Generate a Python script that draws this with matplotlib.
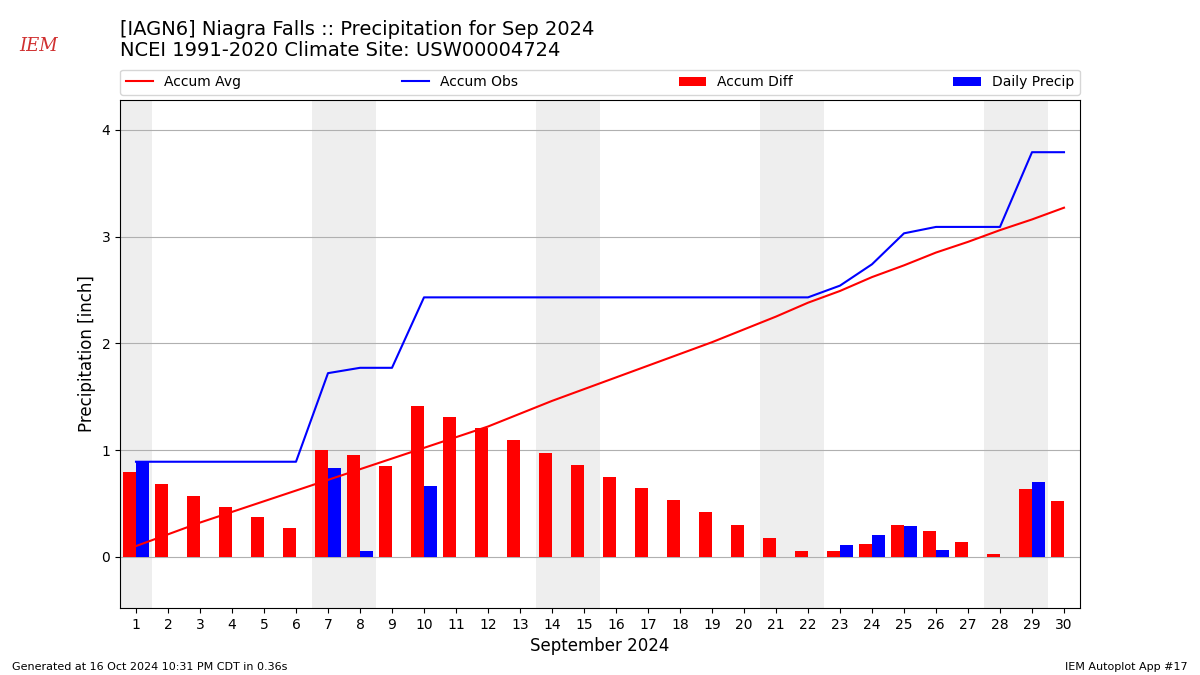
import matplotlib
matplotlib.use("Agg")
import matplotlib.pyplot as plt
import numpy as np

# September 2024 daily values, Niagara Falls (IAGN6)
days = list(range(1, 31))
accum_avg = [0.10, 0.21, 0.32, 0.42, 0.52, 0.62, 0.72, 0.82, 0.92, 1.02,
             1.12, 1.22, 1.34, 1.46, 1.57, 1.68, 1.79, 1.90, 2.01, 2.13,
             2.25, 2.38, 2.49, 2.62, 2.73, 2.85, 2.95, 3.06, 3.16, 3.27]
daily_precip = [0.89, 0, 0, 0, 0, 0, 0.83, 0.05, 0, 0.66,
                0, 0, 0, 0, 0, 0, 0, 0, 0, 0,
                0, 0, 0.11, 0.20, 0.29, 0.06, 0, 0, 0.70, 0]
weekend_days = [1, 7, 8, 14, 15, 21, 22, 28, 29]

accum_obs = np.cumsum(daily_precip)
accum_diff = accum_obs - np.array(accum_avg)

fig = plt.figure(figsize=(12, 6.75), dpi=100)
ax = fig.add_axes([0.1, 0.0993, 0.8, 0.7527])

# weekend shading
for d in weekend_days:
    ax.axvspan(d - 0.5, d + 0.5, color="#eeeeee", zorder=0, lw=0)

ax.plot(days, accum_avg, color="r", label="Accum Avg", zorder=3)
ax.plot(days, accum_obs, color="b", label="Accum Obs", zorder=3)
ax.bar(np.array(days) - 0.2, accum_diff, width=0.4, color="r", label="Accum Diff", zorder=2)
ax.bar(np.array(days) + 0.2, daily_precip, width=0.4, color="b", label="Daily Precip", zorder=2)

ax.set_xlim(0.5, 30.5)
ax.set_ylim(-0.48, 4.28)
ax.set_xticks(days)
ax.set_yticks([0, 1, 2, 3, 4])
ax.grid(axis="y", color="#b0b0b0", zorder=1)
ax.set_axisbelow(True)
ax.set_xlabel("September 2024", fontsize=12)
ax.set_ylabel("Precipitation [inch]", fontsize=12)

ax.legend(bbox_to_anchor=(0, 1.01, 1, 0.05), loc="lower left", ncol=4,
          mode="expand", borderaxespad=0, fontsize=10)

fig.text(0.1, 0.957, "[IAGN6] Niagra Falls :: Precipitation for Sep 2024", fontsize=14, va="center")
fig.text(0.1, 0.925, "NCEI 1991-2020 Climate Site: USW00004724", fontsize=14, va="center")

# stand-in for IEM logo
fig.text(0.032, 0.932, "IEM", color="#d03030", fontsize=13, family="serif",
         style="italic", va="center", ha="center")

fig.text(0.01, 0.007, "Generated at 16 Oct 2024 10:31 PM CDT in 0.36s", fontsize=8)
fig.text(0.99, 0.007, "IEM Autoplot App #17", fontsize=8, ha="right")

fig.savefig("out.png", dpi=100)
